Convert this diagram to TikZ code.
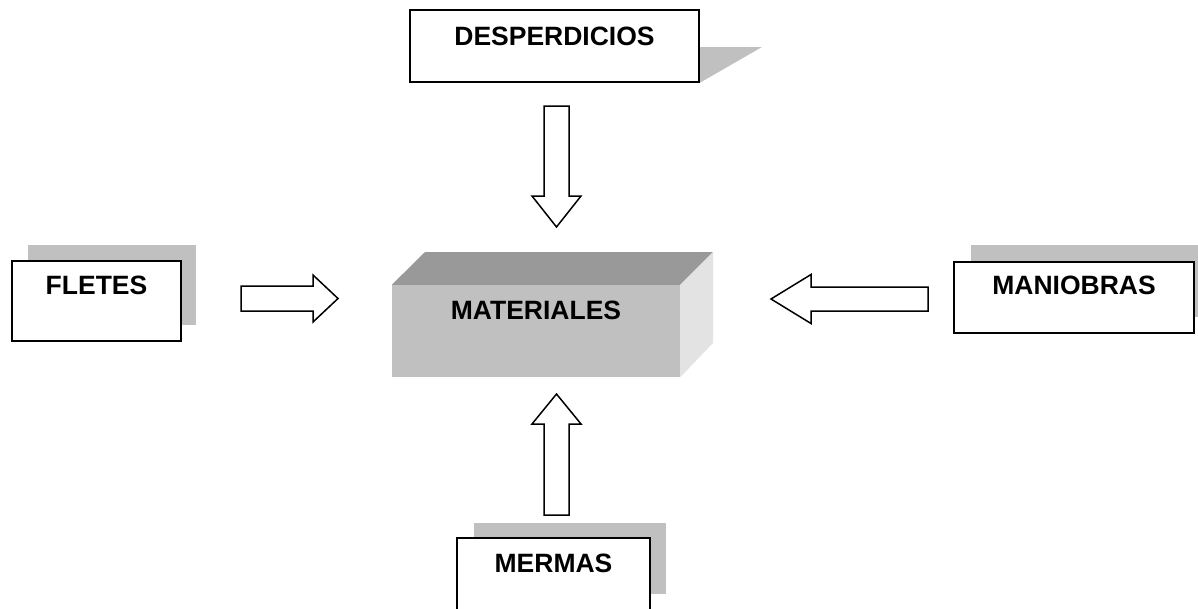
\documentclass[tikz,border=0pt]{standalone}
\usepackage{fontspec}
\setmainfont{Liberation Sans}
\usetikzlibrary{positioning}
\pgfdeclarelayer{background}
\pgfsetlayers{background,main}
\definecolor{shadowgray}{HTML}{C0C0C0}
\definecolor{topgray}{HTML}{999999}
\definecolor{sidegray}{HTML}{E3E3E3}

\begin{document}
\begin{tikzpicture}[x=1pt,y=-1pt,
					boxnode/.style={rectangle, draw=black, line width=1.6pt, fill=white, inner sep=0pt},
					frontnode/.style={rectangle, fill=shadowgray, inner sep=0pt},
					textnode/.style={anchor=base, inner sep=0pt, font=\fontsize{26.5}{31}\selectfont\bfseries},
					blockarrow/.style={draw=black, line width=1.5pt, fill=white, line join=miter},
					]
					\clip (0,0) rectangle (1198,608);
					\useasboundingbox (0,0) rectangle (1198,608);
					%Nodes
					\node[boxnode, minimum width=289pt, minimum height=72pt]   (desp)   at (554.5,46)  {};
					\node[boxnode, minimum width=169pt, minimum height=80pt]   (fletes) at (96.5,301)  {};
					\node[boxnode, minimum width=240pt, minimum height=71pt]   (manio)  at (1074,297.5) {};
					\node[boxnode, minimum width=193pt, minimum height=84pt]   (mermas) at (553.5,580) {};
					\node[frontnode, minimum width=288pt, minimum height=92pt] (mat)    at (536,331)   {};

					\node[textnode] (tdesp)   at ([yshift=-36pt]desp.north)   {DESPERDICIOS};
					\node[textnode] (tfletes) at ([yshift=-34pt]fletes.north) {FLETES};
					\node[textnode] (tmanio)  at ([yshift=-33pt]manio.north)  {MANIOBRAS};
					\node[textnode] (tmermas) at ([yshift=-35pt]mermas.north) {MERMAS};
					\node[textnode] (tmat)    at ([yshift=-35pt]mat.north)    {MATERIALES};

					\begin{pgfonlayer}{background}
					%Shadows
					\fill[shadowgray] (desp.east |- 0,47) -- (762,47) -- (desp.south east) -- cycle;
					\fill[shadowgray] (28,245) rectangle (196,325);
					\fill[shadowgray] (971,245) rectangle (1215,317);
					\fill[shadowgray] (474,523) rectangle (666,594);
					\end{pgfonlayer}

					%Box faces
					\fill[topgray]  (mat.north west) -- (425,252) -- (713,252) -- (mat.north east) -- cycle;
					\fill[sidegray] (mat.north east) -- (713,252) -- (713,343) -- (mat.south east) -- cycle;

					%Arrows
					\draw[blockarrow] (544,106) -- (569,106) -- (569,196) -- (581,196) -- (556.5,227) -- (532,196) -- (544,196) -- cycle;
					\draw[blockarrow] (241,286) -- (313,286) -- (313,275) -- (338,298.5) -- (313,322) -- (313,311) -- (241,311) -- cycle;
					\draw[blockarrow] (928,287) -- (811,287) -- (811,274.5) -- (771,299) -- (811,323.5) -- (811,311) -- (928,311) -- cycle;
					\draw[blockarrow] (544,515) -- (544,424) -- (532,424) -- (556.5,394) -- (581,424) -- (569,424) -- (569,515) -- cycle;
				\end{tikzpicture}
\end{document}
